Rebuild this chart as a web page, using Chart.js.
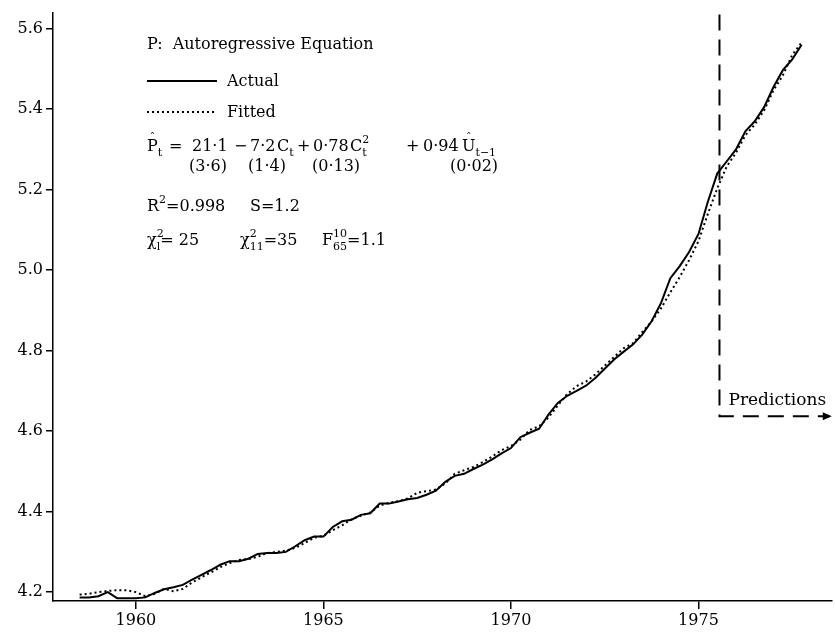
<!DOCTYPE html>
<html>
<head>
<meta charset="utf-8">
<script src="https://cdn.jsdelivr.net/npm/chart.js@4/dist/chart.umd.min.js"></script>
<style>
  html, body { margin: 0; padding: 0; background: #fff; }
  #wrap { width: 835px; height: 635px; }
</style>
</head>
<body>
<div id="wrap"><canvas id="chart" width="835" height="635"></canvas></div>
<script>
// quarterly observations
const quarters = [
  1958.5, 1958.75, 1959, 1959.25, 1959.5, 1959.75, 1960, 1960.25, 1960.5, 1960.75,
  1961, 1961.25, 1961.5, 1961.75, 1962, 1962.25, 1962.5, 1962.75, 1963, 1963.25,
  1963.5, 1963.75, 1964, 1964.25, 1964.5, 1964.75, 1965, 1965.25, 1965.5, 1965.75,
  1966, 1966.25, 1966.5, 1966.75, 1967, 1967.25, 1967.5, 1967.75, 1968, 1968.25,
  1968.5, 1968.75, 1969, 1969.25, 1969.5, 1969.75, 1970, 1970.25, 1970.5, 1970.75,
  1971, 1971.25, 1971.5, 1971.75, 1972, 1972.25, 1972.5, 1972.75, 1973, 1973.25,
  1973.5, 1973.75, 1974, 1974.25, 1974.5, 1974.75, 1975, 1975.25, 1975.5, 1975.75,
  1976, 1976.25, 1976.5, 1976.75, 1977, 1977.25, 1977.5, 1977.75
];

const actual = [
  4.187, 4.187, 4.190, 4.200, 4.185, 4.185, 4.185, 4.187, 4.198, 4.207,
  4.212, 4.218, 4.231, 4.243, 4.255, 4.268, 4.277, 4.277, 4.283, 4.295,
  4.297, 4.297, 4.300, 4.314, 4.329, 4.338, 4.338, 4.362, 4.376, 4.380,
  4.392, 4.396, 4.420, 4.420, 4.425, 4.431, 4.434, 4.442, 4.452, 4.474,
  4.489, 4.494, 4.506, 4.517, 4.530, 4.545, 4.558, 4.585, 4.596, 4.606,
  4.641, 4.670, 4.688, 4.700, 4.713, 4.732, 4.755, 4.778, 4.797, 4.815,
  4.840, 4.873, 4.918, 4.980, 5.010, 5.045, 5.090, 5.170, 5.240, 5.270,
  5.300, 5.345, 5.370, 5.405, 5.455, 5.497, 5.524, 5.560
];

const fitted = [
  4.194, 4.196, 4.200, 4.203, 4.205, 4.205, 4.200, 4.190, 4.196, 4.208,
  4.202, 4.208, 4.224, 4.237, 4.249, 4.262, 4.272, 4.280, 4.282, 4.288,
  4.297, 4.300, 4.303, 4.310, 4.322, 4.335, 4.340, 4.354, 4.366, 4.381,
  4.390, 4.398, 4.415, 4.422, 4.426, 4.433, 4.447, 4.451, 4.455, 4.470,
  4.494, 4.503, 4.511, 4.523, 4.537, 4.553, 4.563, 4.579, 4.603, 4.612,
  4.634, 4.664, 4.692, 4.712, 4.723, 4.741, 4.763, 4.784, 4.806, 4.818,
  4.846, 4.873, 4.905, 4.945, 4.983, 5.025, 5.072, 5.140, 5.203, 5.257,
  5.292, 5.335, 5.362, 5.397, 5.447, 5.484, 5.535, 5.566
];

const xTicks = [1960, 1965, 1970, 1975];
const yTicks = [4.2, 4.4, 4.6, 4.8, 5.0, 5.2, 5.4, 5.6];

// prediction period marker
const predictionStart = 1975.56;
const predictionTop = 5.635;
const predictionLevel = 4.637;
const predictionEnd = 1978.5;

const FONT = "'DejaVu Serif', 'Liberation Serif', serif";

// text block drawn on top (equation, legend, labels)
const notesPlugin = {
  id: 'notes',
  afterDraw(chart) {
    const ctx = chart.ctx;
    ctx.save();
    ctx.fillStyle = '#000';
    ctx.strokeStyle = '#000';
    ctx.textBaseline = 'alphabetic';
    ctx.textAlign = 'left';

    const big = '16px ' + FONT;
    const small = '11px ' + FONT;
    const x0 = 147;

    function runs(x, y, list) {
      list.forEach(r => {
        if (r.at !== undefined) x = r.at;
        ctx.font = r.f || big;
        const w = ctx.measureText(r.t).width;
        if (r.hat) {
          ctx.font = small;
          ctx.textAlign = 'center';
          ctx.fillText('\u02C6', x + w / 2, y - 10);
          ctx.textAlign = 'left';
          ctx.font = r.f || big;
        }
        ctx.fillText(r.t, x, y + (r.dy || 0));
        if (!r.stay) x += w;
      });
      return x;
    }

    ctx.font = big;
    ctx.fillText('P:  Autoregressive Equation', x0, 49);

    // legend samples
    const ds = chart.data.datasets;
    [[ds[0], 81, 'Actual'], [ds[1], 112, 'Fitted']].forEach(([d, y, label]) => {
      ctx.save();
      ctx.lineWidth = d.borderWidth;
      ctx.setLineDash(d.borderDash || []);
      ctx.beginPath();
      ctx.moveTo(x0, y);
      ctx.lineTo(x0 + 70, y);
      ctx.stroke();
      ctx.restore();
      ctx.font = big;
      ctx.fillText(label, x0 + 80, y + 5);
    });

    // equation
    const yEq = 151;
    runs(x0, yEq, [
      { t: 'P', hat: true }, { t: 't', f: small, dy: 5 },
      { t: '=', at: 169 },
      { t: '21·1', at: 192 },
      { t: '\u2212', at: 234 },
      { t: '7·2', at: 250 }, { t: 'C', at: 277 }, { t: 't', f: small, dy: 5 },
      { t: '+', at: 297 },
      { t: '0·78', at: 313 }, { t: 'C', at: 350 }, { t: '2', f: small, dy: -8, stay: true }, { t: 't', f: small, dy: 5 },
      { t: '+', at: 406 },
      { t: '0·94', at: 423 }, { t: 'U', at: 462, hat: true }, { t: 't\u22121', f: small, dy: 5 }
    ]);

    const yPar = 171;
    runs(x0, yPar, [
      { t: '(3·6)', at: 189 },
      { t: '(1·4)', at: 248 },
      { t: '(0·13)', at: 312 },
      { t: '(0·02)', at: 450 }
    ]);

    const yR = 211;
    runs(x0, yR, [
      { t: 'R' }, { t: '2', f: small, dy: -8 }, { t: '=0.998' },
      { t: 'S=1.2', at: 250 }
    ]);

    const yC = 245;
    runs(x0, yC, [
      { t: '\u03C7' }, { t: '2', f: small, dy: -8, stay: true }, { t: 'l', f: small, dy: 5 }, { t: '= 25' },
      { t: '\u03C7', at: 240 }, { t: '2', f: small, dy: -8, stay: true }, { t: '11', f: small, dy: 5 }, { t: '=35' },
      { t: 'F', at: 322 }, { t: '10', f: small, dy: -8, stay: true }, { t: '65', f: small, dy: 5 }, { t: '=1.1' }
    ]);

    // predictions arrow + label
    const xs = chart.scales.x, ys = chart.scales.y;
    const ax = xs.getPixelForValue(predictionEnd);
    const ay = ys.getPixelForValue(predictionLevel);
    ctx.beginPath();
    ctx.moveTo(ax + 2, ay);
    ctx.lineTo(ax - 7, ay - 4);
    ctx.lineTo(ax - 7, ay + 4);
    ctx.closePath();
    ctx.fill();
    ctx.font = '17px ' + FONT;
    ctx.fillText('Predictions', xs.getPixelForValue(predictionStart) + 9, ay - 11);

    ctx.restore();
  }
};

const tickFont = { family: FONT, size: 16 };

new Chart(document.getElementById('chart'), {
  type: 'line',
  data: {
    datasets: [
      {
        label: 'Actual',
        data: quarters.map((q, i) => ({ x: q, y: actual[i] })),
        borderColor: '#000',
        borderWidth: 2,
        pointRadius: 0,
        tension: 0
      },
      {
        label: 'Fitted',
        data: quarters.map((q, i) => ({ x: q, y: fitted[i] })),
        borderColor: '#000',
        borderWidth: 2,
        borderDash: [2, 3],
        pointRadius: 0,
        tension: 0
      },
      {
        label: 'Predictions',
        data: [
          { x: predictionStart, y: predictionTop },
          { x: predictionStart, y: predictionLevel },
          { x: predictionEnd, y: predictionLevel }
        ],
        borderColor: '#000',
        borderWidth: 2,
        borderDash: [16, 9],
        pointRadius: 0,
        tension: 0
      }
    ]
  },
  options: {
    responsive: false,
    animation: false,
    devicePixelRatio: 1,
    layout: { padding: { left: 0, top: 10, right: 3, bottom: 0 } },
    plugins: {
      legend: { display: false },
      tooltip: { enabled: false }
    },
    scales: {
      x: {
        type: 'linear',
        min: 1957.79,
        max: 1978.56,
        afterBuildTicks: s => { s.ticks = xTicks.map(v => ({ value: v })); },
        afterFit: s => { s.height = 34; },
        ticks: {
          callback: v => String(v),
          font: tickFont,
          color: '#000',
          maxRotation: 0,
          padding: 2
        },
        grid: { drawOnChartArea: false, tickLength: 8, color: '#000', lineWidth: 1.5 },
        border: { display: true, color: '#000', width: 1.5 }
      },
      y: {
        type: 'linear',
        min: 4.178,
        max: 5.64,
        afterBuildTicks: s => { s.ticks = yTicks.map(v => ({ value: v })); },
        afterFit: s => { s.width = 53; },
        ticks: {
          callback: v => v.toFixed(1),
          font: tickFont,
          color: '#000',
          padding: 3
        },
        grid: { drawOnChartArea: false, tickLength: 7, color: '#000', lineWidth: 1.5 },
        border: { display: true, color: '#000', width: 1.5 }
      }
    }
  },
  plugins: [notesPlugin]
});
</script>
</body>
</html>
